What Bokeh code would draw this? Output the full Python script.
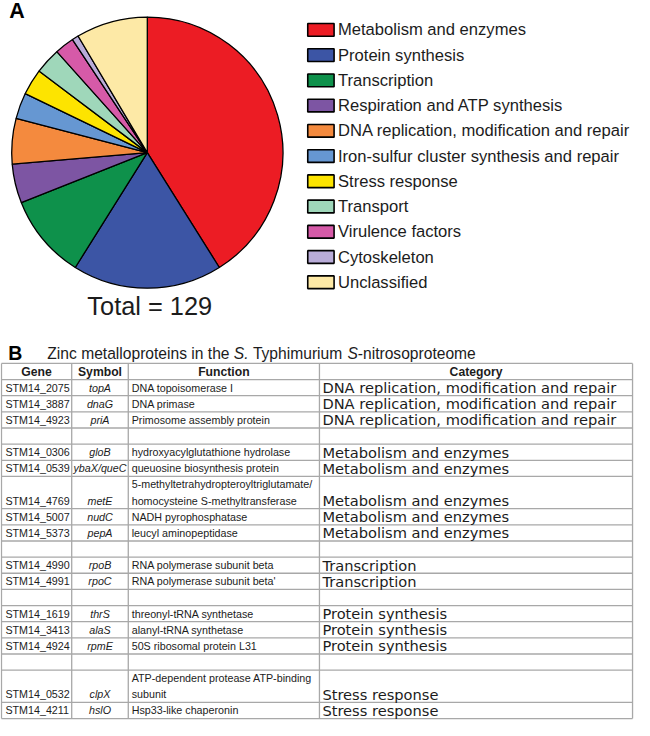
import numpy as np
from bokeh.plotting import figure
from bokeh.models import Range1d, ColumnDataSource
from bokeh.core.properties import value
from bokeh.embed import file_html
from bokeh.resources import INLINE

# ---------------- Panel A data ----------------
categories = [
    "Metabolism and enzymes",
    "Protein synthesis",
    "Transcription",
    "Respiration and ATP synthesis",
    "DNA replication, modification and repair",
    "Iron-sulfur cluster synthesis and repair",
    "Stress response",
    "Transport",
    "Virulence factors",
    "Cytoskeleton",
    "Unclassified",
]
counts = [53, 23, 13, 6, 7, 4, 4, 4, 3, 1, 11]
colors = ["#ec1c24", "#3c55a5", "#0e914b", "#7d55a3", "#f48a3e", "#6697d2",
          "#fde400", "#9fd7ba", "#d65aa8", "#b9acd8", "#fde9a6"]

# ---------------- Panel B data ----------------
table_title = ["Zinc metalloproteins in the ", "S.", " Typhimurium ", "S", "-nitrosoproteome"]
title_italic = [False, True, False, True, False]
table_header = ["Gene", "Symbol", "Function", "Category"]
genes = ["STM14_2075", "STM14_3887", "STM14_4923", "",
         "STM14_0306", "STM14_0539", "STM14_4769", "STM14_5007", "STM14_5373", "",
         "STM14_4990", "STM14_4991", "",
         "STM14_1619", "STM14_3413", "STM14_4924", "",
         "STM14_0532", "STM14_4211"]
symbols = ["topA", "dnaG", "priA", "",
           "gloB", "ybaX/queC", "metE", "nudC", "pepA", "",
           "rpoB", "rpoC", "",
           "thrS", "alaS", "rpmE", "",
           "clpX", "hslO"]
functions = ["DNA topoisomerase I", "DNA primase", "Primosome assembly protein", "",
             "hydroxyacylglutathione hydrolase", "queuosine biosynthesis protein",
             "5-methyltetrahydropteroyltriglutamate/\nhomocysteine S-methyltransferase",
             "NADH pyrophosphatase", "leucyl aminopeptidase", "",
             "RNA polymerase subunit beta", "RNA polymerase subunit beta'", "",
             "threonyl-tRNA synthetase", "alanyl-tRNA synthetase", "50S ribosomal protein L31", "",
             "ATP-dependent protease ATP-binding\nsubunit", "Hsp33-like chaperonin"]
gene_categories = ["DNA replication, modification and repair"] * 3 + [""] + \
    ["Metabolism and enzymes"] * 5 + [""] + ["Transcription"] * 2 + [""] + \
    ["Protein synthesis"] * 3 + [""] + ["Stress response"] * 2

# ---------------- helpers ----------------
W, H = 650, 736
S = 634 / W
FONT = "Liberation Sans"
TXT = "#1c1c1c"


def Y(v):
    return H - v


def px(v):
    return f"{v * S:.2f}px"


_AW = {' ': 278, '.': 278, '-': 333, "'": 191, '/': 278, ',': 278, '_': 556,
       'A': 667, 'B': 667, 'C': 722, 'D': 722, 'E': 667, 'F': 611, 'G': 778, 'H': 722,
       'I': 278, 'J': 500, 'K': 667, 'L': 556, 'M': 833, 'N': 722, 'O': 778, 'P': 667,
       'Q': 778, 'R': 722, 'S': 667, 'T': 611, 'U': 722, 'V': 667, 'W': 944, 'X': 667,
       'Y': 667, 'Z': 611,
       'a': 556, 'b': 556, 'c': 500, 'd': 556, 'e': 556, 'f': 278, 'g': 556, 'h': 556,
       'i': 222, 'j': 222, 'k': 500, 'l': 222, 'm': 833, 'n': 556, 'o': 556, 'p': 556,
       'q': 556, 'r': 333, 's': 500, 't': 278, 'u': 556, 'v': 500, 'w': 722, 'x': 500,
       'y': 500, 'z': 500}


def text_width(s, size):
    return sum(_AW.get(c, 556) for c in s) / 1000.0 * size


p = figure(width=634, height=720, x_range=Range1d(0, W), y_range=Range1d(0, H),
           output_backend="svg", toolbar_location=None, min_border=0,
           x_axis_location=None, y_axis_location=None)
p.grid.visible = False
p.outline_line_color = None
p.background_fill_color = "white"
p.border_fill_color = "white"

# ---------------- Panel A: pie ----------------
total = int(sum(counts))
cum = np.cumsum([0] + counts)
k = 2 * np.pi / total
pie_src = ColumnDataSource(dict(start=np.pi / 2 - cum[1:] * k,
                                end=np.pi / 2 - cum[:-1] * k,
                                color=colors))
p.wedge(x=150.5, y=Y(155.5), radius=139, start_angle="start", end_angle="end",
        fill_color="color", line_color="black", line_width=1.3, source=pie_src)

p.text(x=[9], y=[Y(10.5)], text=["A"], text_font=value(FONT), text_font_style="bold",
       text_font_size=px(22), text_baseline="middle", text_color="black")
p.text(x=[153], y=[Y(312)], text=[f"Total = {total}"], text_font=value(FONT),
       text_font_size=px(26), text_align="center", text_baseline="middle",
       text_color=TXT)

leg_y = [Y(30 + i * 25.8) for i in range(len(categories))]
p.rect(x=328.5, y=leg_y, width=27, height=13, fill_color=colors,
       line_color="black", line_width=1.6)
p.text(x=346, y=leg_y, text=categories, text_font=value(FONT),
       text_font_size=px(17), text_baseline="middle", text_color=TXT)

# ---------------- Panel B: table ----------------
p.text(x=[8], y=[Y(360)], text=["B"], text_font=value(FONT), text_font_style="bold",
       text_font_size=px(20), text_baseline="middle", text_color="black")
tx = 48.0
for seg, it in zip(table_title, title_italic):
    lead = len(seg) - len(seg.lstrip(" "))
    p.text(x=[tx + text_width(" " * lead, 16)], y=[Y(361)], text=[seg.strip(" ")],
           text_font=value(FONT), text_font_style="italic" if it else "normal",
           text_font_size=px(16), text_baseline="middle", text_color=TXT)
    tx += text_width(seg, 16)

T, U = 371.0, 16.5
col_edges = [1, 73, 131, 327, 648]
units = [f.count("\n") + 1 for f in functions]
bounds = [T, T + U]
for n in units:
    bounds.append(bounds[-1] + n * U)
bottom = bounds[-1]

grid = "#a8a8a8"
p.segment(x0=col_edges[0], x1=col_edges[-1], y0=[Y(b) for b in bounds],
          y1=[Y(b) for b in bounds], line_color=grid, line_width=1.3)
p.segment(x0=col_edges, x1=col_edges, y0=Y(T), y1=Y(bottom),
          line_color=grid, line_width=1.3)

# header
hx = [(col_edges[i] + col_edges[i + 1]) / 2 for i in range(4)]
p.text(x=hx, y=Y(T + U / 2), text=table_header, text_font=value(FONT),
       text_font_style="bold", text_font_size=px(12.5), text_align="center",
       text_baseline="middle", text_color=TXT)

TS = 11
row_mid = [Y(bounds[i + 2] - U / 2) for i in range(len(genes))]
p.text(x=5, y=row_mid, text=genes, text_font=value(FONT), text_font_size=px(TS),
       text_baseline="middle", text_color=TXT)
p.text(x=hx[1], y=row_mid, text=symbols, text_font=value(FONT),
       text_font_style="italic", text_font_size=px(TS), text_align="center",
       text_baseline="middle", text_color=TXT)
p.text(x=330, y=row_mid, text=gene_categories, text_font=value("DejaVu Sans"),
       text_font_size=px(15), text_baseline="middle", text_color=TXT)

fx, fy, ft = [], [], []
for i, f in enumerate(functions):
    for j, line in enumerate(f.split("\n")):
        fx.append(134.5)
        fy.append(Y(bounds[i + 1] + (j + 0.5) * U))
        ft.append(line)
p.text(x=fx, y=fy, text=ft, text_font=value(FONT), text_font_size=px(TS),
       text_baseline="middle", text_color=TXT)

open("out.html", "w").write(file_html(p, INLINE))
